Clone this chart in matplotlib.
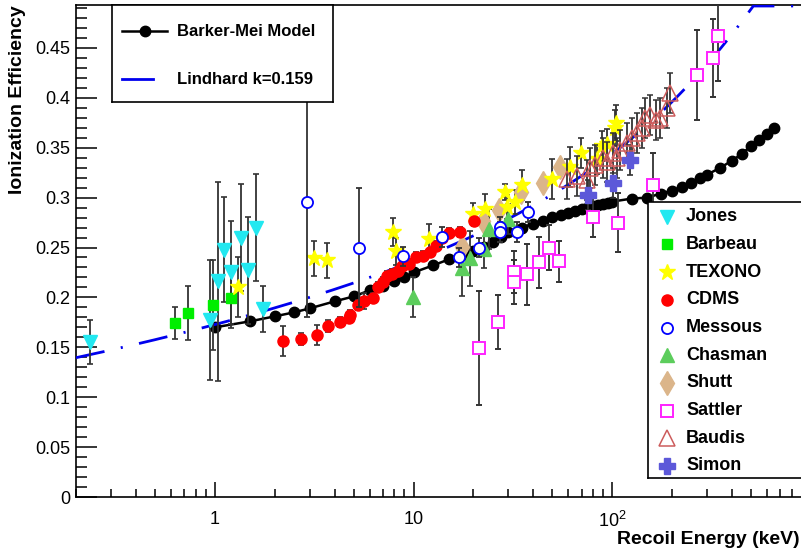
import numpy as np
import matplotlib
matplotlib.use("Agg")
import matplotlib.pyplot as plt
from matplotlib.lines import Line2D

plt.rcParams['font.family'] = ['Liberation Sans', 'DejaVu Sans']
plt.rcParams['mathtext.fontset'] = 'custom'
plt.rcParams['mathtext.rm'] = 'Liberation Sans'
plt.rcParams['lines.scale_dashes'] = False

# Barker-Mei model
bm_e = [1, 1.5, 2, 2.5, 3, 4, 5, 6, 7, 8, 9, 10, 12.5, 15, 17.5, 20, 22.5, 25, 27.5, 30,
        35, 40, 45, 50, 55, 60, 65, 70, 75, 80, 85, 90, 95, 100, 125, 150, 175, 200,
        225, 250, 275, 300, 350, 400, 450, 500, 550, 600, 650]
bm_y = [0.170, 0.176, 0.181, 0.185, 0.189, 0.196, 0.201, 0.207, 0.211, 0.216, 0.220, 0.225,
        0.232, 0.238, 0.242, 0.247, 0.251, 0.256, 0.261, 0.266, 0.270, 0.274, 0.277, 0.281,
        0.283, 0.285, 0.287, 0.289, 0.290, 0.292, 0.293, 0.294, 0.295, 0.296, 0.299, 0.300,
        0.304, 0.307, 0.311, 0.315, 0.320, 0.323, 0.330, 0.337, 0.344, 0.352, 0.358, 0.364, 0.370]

# Lindhard model for Ge
lind_k = 0.159
lind_z = 32

jones_e = [0.234, 0.95, 1.04, 1.11, 1.21, 1.35, 1.47, 1.61, 1.75]
jones_y = [0.155, 0.177, 0.216, 0.248, 0.225, 0.260, 0.227, 0.270, 0.188]
jones_err = [0.022, 0.06, 0.10, 0.053, 0.052, 0.054, 0.054, 0.054, 0.023]

barbeau_e = [0.627, 0.729, 0.98, 1.21]
barbeau_y = [0.174, 0.184, 0.192, 0.199]
barbeau_err = [0.016, 0.027, 0.045, 0.03]

texono_e = [1.30, 3.16, 3.68, 7.91, 8.15, 11.96, 19.8, 22.9, 28.9, 29.6, 32.3, 35.1,
            49.9, 61.3, 69.9, 84.2, 88.4, 94.4, 103.6, 104.7]
texono_y = [0.210, 0.239, 0.237, 0.266, 0.246, 0.259, 0.284, 0.289, 0.306, 0.291, 0.296, 0.313,
            0.319, 0.331, 0.345, 0.339, 0.352, 0.354, 0.370, 0.375]
texono_err = [0.03, 0.018, 0.018, 0.014, 0.014, 0.015, 0.011, 0.015, 0.008, 0.012, 0.012, 0.015,
              0.02, 0.02, 0.015, 0.015, 0.015, 0.015, 0.018, 0.018]

cdms_e = [2.19, 2.71, 3.28, 3.70, 4.26, 4.74, 4.78, 5.27, 5.65, 6.27, 6.64, 7.05, 7.33, 7.77,
          8.38, 8.72, 9.43, 10.3, 11.1, 12.1, 12.9, 13.9, 15.0, 17.1, 20.1]
cdms_y = [0.156, 0.158, 0.162, 0.171, 0.175, 0.179, 0.182, 0.192, 0.196, 0.199, 0.210, 0.215,
          0.221, 0.223, 0.226, 0.231, 0.233, 0.240, 0.241, 0.245, 0.252, 0.260, 0.265, 0.266, 0.277]
cdms_err = [0.015, 0.006, 0.01, 0.006, 0.005, 0.005, 0.005, 0.005, 0.008, 0.005, 0.005, 0.005,
            0.005, 0.005, 0.005, 0.005, 0.005, 0.005, 0.005, 0.005, 0.005, 0.005, 0.005, 0.005, 0.005]

messous_e = [2.90, 5.31, 8.89, 13.9, 16.9, 21.4, 27.3, 27.3, 33.0, 37.8]
messous_y = [0.296, 0.250, 0.241, 0.261, 0.240, 0.250, 0.271, 0.266, 0.266, 0.286]
messous_err = [0.116, 0.06, 0.01, 0.01, 0.01, 0.01, 0.01, 0.01, 0.01, 0.01]

chasman_e = [9.9, 17.5, 19.2, 22.7, 24.0, 30.0]
chasman_y = [0.200, 0.229, 0.239, 0.249, 0.269, 0.279]
chasman_err = [0.02, 0.028, 0.028, 0.02, 0.02, 0.015]

shutt_e = [17.5, 22.4, 27.0, 34.9, 44.6, 54.6]
shutt_y = [0.251, 0.277, 0.288, 0.306, 0.315, 0.331]

sattler_e = [21.4, 26.6, 32.1, 32.1, 37.3, 42.8, 48.0, 54.2, 80.3, 106.6, 161, 266, 322, 339]
sattler_y = [0.149, 0.175, 0.225, 0.215, 0.223, 0.235, 0.250, 0.236, 0.281, 0.275, 0.313,
             0.423, 0.440, 0.462]
sattler_err = [0.057, 0.027, 0.021, 0.022, 0.031, 0.026, 0.023, 0.021, 0.02, 0.03, 0.032,
               0.045, 0.039, 0.045]

baudis_e = [58.9, 66.7, 74.5, 77.2, 81.9, 89.7, 93.9, 101, 105, 109, 118, 125, 133, 141,
            146, 155, 165, 174, 188, 195]
baudis_y = [0.319, 0.322, 0.318, 0.330, 0.333, 0.340, 0.336, 0.345, 0.340, 0.348, 0.355,
            0.360, 0.365, 0.370, 0.380, 0.383, 0.378, 0.380, 0.390, 0.405]
baudis_err = [0.02] * len(baudis_e)

simon_e = [75.8, 101.3, 123]
simon_y = [0.303, 0.315, 0.338]
simon_err = [0.015, 0.015, 0.015]

YMAX = 0.493

fig = plt.figure(figsize=(8.01, 5.5), dpi=100)
W, H = 801.0, 550.0
ax = fig.add_axes([76 / W, 1 - 497 / H, (811 - 76) / W, (497 - 5) / H])
ax.set_xscale('log')
ax.set_xlim(0.2, 1000)
ax.set_ylim(0, YMAX)

ecol = '#333333'
ekw = dict(ecolor=ecol, elinewidth=1.3, capsize=2.2, capthick=1.2, linestyle='none')

# models
ax.plot(bm_e, bm_y, '-', color='black', lw=1.8, marker='o', ms=7.5, zorder=3)
e = np.logspace(np.log10(0.2), np.log10(1000), 600)
eps = 11.5 * e * lind_z ** (-7.0 / 3)
g = 3 * eps ** 0.15 + 0.7 * eps ** 0.6 + eps
lind = lind_k * g / (1 + lind_k * g)
ax.plot(e, np.minimum(lind, YMAX - 0.001), color='#0000ee', lw=2.0,
        linestyle=(0, (21, 12, 1.5, 12)), zorder=4)

# data sets
ax.errorbar(jones_e, jones_y, yerr=jones_err, marker='v', ms=10, color='#22e8f0', mec='#22e8f0', zorder=5, **ekw)
ax.errorbar(barbeau_e, barbeau_y, yerr=barbeau_err, marker='s', ms=7.5, color='#00ee00', mec='#00ee00', zorder=5, **ekw)
ax.errorbar(texono_e, texono_y, yerr=texono_err, marker='*', ms=12, color='#ffff00', mec='#ffff00', zorder=5, **ekw)
ax.errorbar(cdms_e, cdms_y, yerr=cdms_err, marker='o', ms=8, color='#ff0000', mec='#ff0000', zorder=5, **ekw)
ax.errorbar(messous_e, messous_y, yerr=messous_err, marker='o', ms=8, mfc='white', mec='#0000ff', mew=1.3, zorder=6, **ekw)
ax.errorbar(chasman_e, chasman_y, yerr=chasman_err, marker='^', ms=10, color='#5ccd5c', mec='#5ccd5c', zorder=5, **ekw)
ax.plot(shutt_e, shutt_y, linestyle='none', marker='d', ms=12, color='#dbb58a', zorder=5)
ax.errorbar(sattler_e, sattler_y, yerr=sattler_err, marker='s', ms=8, mfc='white', mec='#ff22ff', mew=1.4, zorder=6, **ekw)
ax.errorbar(baudis_e, baudis_y, yerr=baudis_err, marker='^', ms=11, mfc='none', mec='#cd5c5c', mew=1.1, zorder=6, **ekw)
ax.errorbar(simon_e, simon_y, yerr=simon_err, marker='P', ms=12, color='#5c58d9', mec='#5c58d9', zorder=6, **ekw)

# axes style
for s in ['top', 'left', 'bottom', 'right']:
    ax.spines[s].set_linewidth(1.2)
ax.tick_params(axis='both', which='both', direction='in', top=False, right=False, labelsize=13)
ax.tick_params(axis='y', which='major', length=15, width=1.1, pad=4)
ax.tick_params(axis='y', which='minor', length=8, width=1.1)
ax.tick_params(axis='x', which='major', length=11, width=1.1, pad=10)
ax.tick_params(axis='x', which='minor', length=6, width=1.1)
yt = [0, 0.05, 0.1, 0.15, 0.2, 0.25, 0.3, 0.35, 0.4, 0.45]
ax.set_yticks(yt)
ax.set_yticklabels(['0', '0.05', '0.1', '0.15', '0.2', '0.25', '0.3', '0.35', '0.4', '0.45'])
ax.set_yticks(np.arange(0, 0.4901, 0.01), minor=True)
ax.set_xticks([1, 10, 100])
ax.set_xticklabels(['1', '10', r'$10^2$'])
minor = [m * 10.0 ** d for d in range(-1, 3) for m in range(2, 10)]
ax.set_xticks([v for v in minor if 0.2 <= v <= 1000], minor=True)
ax.set_xticklabels([], minor=True)

fig.text(18 / W, 1 - 5 / H, 'Ionization Efficiency', rotation=90, ha='center', va='top',
         fontsize=14, fontweight='bold')
fig.text(800 / W, 1 - 540 / H, 'Recoil Energy (keV)', ha='right', va='center',
         fontsize=14, fontweight='bold')

# legend for models
lg1 = fig.add_axes([112 / W, 1 - 102 / H, (333 - 112) / W, (102 - 5) / H], zorder=10)
lg1.set_xlim(112, 333)
lg1.set_ylim(102, 5)
lg1.set_xticks([])
lg1.set_yticks([])
for s in lg1.spines.values():
    s.set_linewidth(1.2)
lg1.plot([122, 167], [31, 31], '-', color='black', lw=1.8)
lg1.plot([145], [31], 'o', color='black', ms=7.5)
lg1.plot([122, 153], [79, 79], '-', color='#0000ee', lw=2.0)
lg1.text(177, 31, 'Barker-Mei Model', fontsize=12, fontweight='bold', va='center')
lg1.text(177, 79, 'Lindhard k=0.159', fontsize=12, fontweight='bold', va='center')

# legend for data
names = ['Jones', 'Barbeau', 'TEXONO', 'CDMS', 'Messous', 'Chasman', 'Shutt', 'Sattler', 'Baudis', 'Simon']
styles = [dict(marker='v', ms=10, color='#22e8f0'),
          dict(marker='s', ms=7.5, color='#00ee00'),
          dict(marker='*', ms=12, color='#ffff00'),
          dict(marker='o', ms=8, color='#ff0000'),
          dict(marker='o', ms=8, mfc='white', mec='#0000ff', mew=1.3),
          dict(marker='^', ms=10, color='#5ccd5c'),
          dict(marker='d', ms=12, color='#dbb58a'),
          dict(marker='s', ms=8, mfc='white', mec='#ff22ff', mew=1.4),
          dict(marker='^', ms=11, mfc='white', mec='#cd5c5c', mew=1.1),
          dict(marker='P', ms=12, color='#5c58d9')]
lg2 = fig.add_axes([648 / W, 1 - 478 / H, (811 - 648) / W, (478 - 202) / H], zorder=10)
lg2.set_xlim(648, 811)
lg2.set_ylim(478, 202)
lg2.set_xticks([])
lg2.set_yticks([])
for s in lg2.spines.values():
    s.set_linewidth(1.2)
for i, (nm, st) in enumerate(zip(names, styles)):
    yy = 216.7 + i * 27.7
    lg2.plot([667], [yy], linestyle='none', **st)
    lg2.text(686, yy, nm, fontsize=13, fontweight='bold', va='center')

fig.savefig('out.png', dpi=100)
